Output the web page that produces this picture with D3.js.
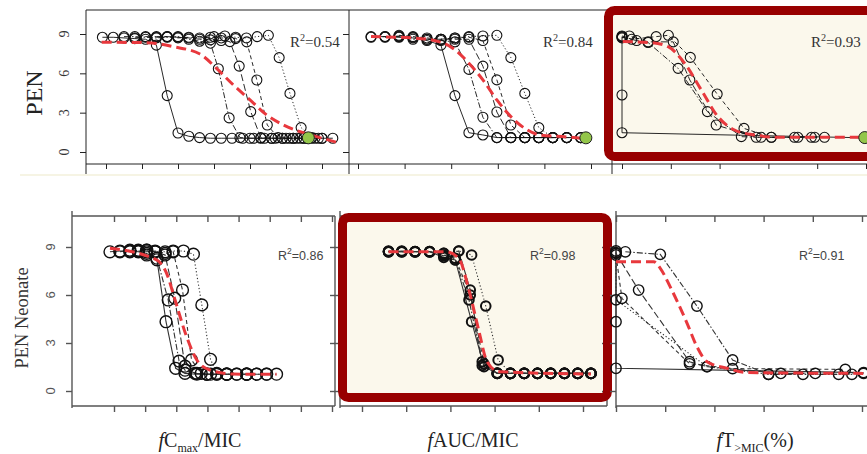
<!DOCTYPE html>
<html>
<head>
<meta charset="utf-8">
<script src="https://cdn.jsdelivr.net/npm/d3@7"></script>
<style>
  body { margin: 0; background: #fff; }
  svg { display: block; }
</style>
</head>
<body>
<svg id="chart" width="867" height="454"></svg>
<script>
// ---- data ----
var yTickValues = [0, 3, 6, 9];
var cmaxTicks = [0, 1, 2, 3, 4, 5, 6];
var neoCmaxTicks = [0, 1, 2, 3, 4, 5, 6, 7];
var aucTicks = [0, 1, 2, 3, 4, 5];
var timeTicks = [0, 20, 40, 60, 80, 100];
var r2Values = ["0.54", "0.84", "0.93", "0.86", "0.98", "0.91"];
var xTitles = ["C", "AUC/MIC", "T"];

var penCmaxSeries = [
  [[-0.1,8.75],[0.2,8.75],[0.5,8.7],[0.8,8.65],[1.1,8.6],[1.4,8.15],[1.7,4.3],[2.0,1.45],[2.3,1.2],[2.6,1.1],[2.9,1.05],[3.2,1.05],[3.5,1.05],[3.8,1.05],[4.1,1.05],[4.4,1.05],[4.7,1.05],[5.0,1.05],[5.3,1.05],[5.6,1.05],[5.9,1.05],[6.3,1.05]],
  [[0.5,8.8],[0.8,8.8],[1.1,8.75],[1.4,8.7],[1.7,8.75],[2.0,8.8],[2.3,8.6],[2.6,8.45],[2.9,8.3],[3.12,6.35],[3.42,2.6],[3.72,1.1],[4.0,1.05],[4.3,1.05],[4.6,1.05],[4.9,1.05],[5.2,1.05],[5.5,1.05]],
  [[0.8,8.7],[1.1,8.8],[1.4,8.8],[1.7,8.8],[2.0,8.75],[2.3,8.7],[2.6,8.6],[2.9,8.55],[3.2,8.5],[3.44,8.42],[3.7,6.55],[4.02,3.08],[4.3,1.1],[4.6,1.05],[4.9,1.05],[5.2,1.05],[5.5,1.05],[5.8,1.05]],
  [[1.4,8.75],[1.7,8.8],[2.0,8.7],[2.3,8.75],[2.6,8.7],[2.9,8.75],[3.2,8.7],[3.6,8.65],[3.91,8.4],[4.19,5.49],[4.48,2.06],[4.78,1.1],[5.1,1.05],[5.4,1.05],[5.7,1.05],[6.0,1.05]],
  [[3.0,8.8],[3.3,8.85],[3.6,8.75],[3.9,8.7],[4.2,8.8],[4.51,8.9],[4.81,7.2],[5.11,4.47],[5.42,1.86],[5.72,1.1],[6.0,1.05]]
];
var penCmaxFit = [[-0.12,8.37],[1.13,8.34],[1.87,8.03],[2.61,7.47],[3.07,6.38],[3.54,5.11],[4.0,3.97],[4.46,2.83],[4.93,2.06],[5.39,1.55],[5.85,1.17],[6.45,0.71]];
var penCmaxGreen = [5.62, 1.08];

var penAucSeries = [
  [[0.28,8.8],[0.58,8.8],[0.88,8.75],[1.18,8.7],[1.48,8.5],[1.78,8.15],[2.08,4.3],[2.38,1.47],[2.68,1.3],[2.98,1.1],[3.28,1.1],[3.58,1.1],[3.88,1.1],[4.18,1.1],[4.48,1.1],[4.78,1.1]],
  [[0.28,8.75],[0.58,8.8],[0.88,8.8],[1.18,8.6],[1.48,8.6],[1.78,8.5],[2.08,8.4],[2.38,6.3],[2.68,2.65],[2.98,1.1],[3.28,1.1],[3.58,1.1],[3.88,1.1],[4.18,1.1]],
  [[0.58,8.75],[0.88,8.85],[1.18,8.75],[1.48,8.6],[1.78,8.6],[2.08,8.6],[2.38,8.6],[2.68,6.55],[2.98,3.05],[3.28,1.1],[3.58,1.1],[3.88,1.1],[4.18,1.1],[4.48,1.1]],
  [[0.88,8.9],[1.18,8.8],[1.48,8.7],[1.78,8.6],[2.08,8.7],[2.38,8.75],[2.68,8.5],[2.98,5.5],[3.28,2.06],[3.58,1.1],[3.88,1.1],[4.18,1.1],[4.48,1.1],[4.78,1.1]],
  [[1.78,8.6],[2.08,8.7],[2.38,8.8],[2.68,8.85],[2.98,8.9],[3.28,7.2],[3.58,4.47],[3.88,1.86],[4.18,1.1],[4.48,1.1],[4.78,1.1]]
];
var penAucFit = [[0.28,8.8],[1.18,8.7],[1.75,8.4],[2.08,7.8],[2.38,6.77],[2.68,5.5],[2.98,3.97],[3.28,2.7],[3.58,1.8],[3.9,1.3],[4.48,1.15],[4.88,1.03]];
var penAucGreen = [4.89, 1.08];

var penTimeSeries = [
  [[0,8.8],[0,4.35],[0,1.47],[99.5,1.08]],
  [[0,8.75],[6,8.5],[10.7,8.35],[23,6.38],[35,3.08],[48.9,1.17],[57,1.12],[70.7,1.12]],
  [[0,8.7],[3,8.85],[10.7,8.4],[21,8.4],[27.8,5.49],[38.6,2.06],[55,1.12],[61.2,1.12],[77.6,1.12]],
  [[0,8.85],[4,8.6],[14,8.8],[19,8.9],[28,7.22],[39,4.42],[50,1.8],[61.2,1.12],[72.1,1.12],[79,1.12],[83,1.12]]
];
var penTimeFit = [[0.3,8.42],[12.1,8.34],[18.9,8.03],[25.7,6.76],[32.5,4.73],[39.3,2.7],[46.1,1.68],[54.3,1.3],[63.8,1.12],[84.2,1.12],[99.5,1.12]];
var penTimeGreen = [99.5, 1.1];

var neoCmaxSeries = [
  [[-0.13,8.7],[0.19,8.75],[0.51,8.75],[0.78,8.7],[1.05,8.6],[1.38,8.2],[1.67,4.33],[1.98,1.42],[2.28,1.1],[2.66,1.05],[2.98,1.05],[3.3,1.05],[3.62,1.05]],
  [[0.19,8.7],[0.51,8.8],[0.78,8.75],[1.05,8.5],[1.38,8.3],[1.74,5.69],[2.09,1.87],[2.28,1.3],[2.66,1.1],[2.98,1.05],[3.3,1.05],[3.94,1.05],[4.26,1.05]],
  [[0.51,8.7],[0.78,8.8],[1.05,8.8],[1.32,8.7],[1.64,8.5],[1.95,5.8],[2.28,1.55],[2.6,1.1],[2.98,1.05],[3.62,1.05],[4.26,1.05],[4.58,1.05]],
  [[0.78,8.75],[1.05,8.7],[1.32,8.75],[1.64,8.6],[1.9,8.7],[2.2,6.31],[2.49,1.94],[2.8,1.1],[3.1,1.05],[3.62,1.05],[4.26,1.05],[4.9,1.05]],
  [[1.05,8.8],[1.32,8.7],[1.64,8.7],[1.9,8.75],[2.23,8.75],[2.55,8.55],[2.82,5.38],[3.1,1.98],[3.3,1.1],[3.62,1.05],[3.94,1.05],[4.26,1.05],[4.58,1.05],[4.9,1.05],[5.22,1.05]]
];
var neoCmaxFit = [[-0.13,8.92],[1.37,8.19],[1.69,7.35],[1.96,5.69],[2.33,3.4],[2.66,1.94],[3.08,1.31],[3.83,1.06],[5.22,1.04]];

var neoAucSeries = [
  [[0.6,8.71],[0.9,8.71],[1.2,8.71],[1.53,8.71],[1.85,8.35],[2.11,8.19],[2.48,4.33],[2.76,1.52],[3.06,1.1],[3.36,1.1],[3.67,1.1],[3.97,1.1],[4.27,1.1],[4.58,1.1],[4.88,1.1],[5.18,1.1]],
  [[0.6,8.75],[0.9,8.7],[1.2,8.72],[1.53,8.7],[1.85,8.6],[2.11,8.2],[2.42,5.69],[2.72,1.83],[3.06,1.1],[3.36,1.1],[3.67,1.1],[3.97,1.1],[4.27,1.1],[4.58,1.1],[4.88,1.1],[5.18,1.1]],
  [[0.6,8.7],[0.9,8.75],[1.2,8.7],[1.53,8.72],[1.85,8.45],[2.19,8.75],[2.45,6.31],[2.72,1.6],[3.06,1.12],[3.36,1.1],[3.67,1.1],[3.97,1.1],[4.27,1.1],[4.58,1.1],[4.88,1.1],[5.18,1.1]],
  [[0.6,8.72],[0.9,8.72],[1.2,8.7],[1.53,8.7],[1.85,8.5],[2.11,8.3],[2.45,6.0],[2.76,1.7],[3.06,1.1],[3.36,1.1],[3.67,1.1],[3.97,1.1],[4.27,1.1],[4.58,1.1],[4.88,1.1],[5.18,1.1]],
  [[0.6,8.7],[0.9,8.7],[1.2,8.7],[1.53,8.7],[1.85,8.6],[2.19,8.75],[2.48,8.5],[2.8,5.31],[3.08,1.94],[3.36,1.1],[3.67,1.1],[3.97,1.1],[4.27,1.1],[4.58,1.1],[4.88,1.1],[5.18,1.1]]
];
var neoAucFit = [[0.6,8.71],[1.89,8.71],[2.19,8.29],[2.42,6.31],[2.64,3.81],[2.83,1.83],[3.1,1.21],[5.18,1.06]];

var neoTimeSeries = [
  [[0,8.75],[0,4.33],[0,1.42],[100.6,1.15]],
  [[3.8,8.7],[18,8.54],[32.9,5.31],[47.4,1.94],[62,1.04],[76,1.04],[95.9,1.04]],
  [[0,8.6],[9.2,6.31],[29.9,1.83],[37,1.52],[67,1.1],[81,1.1]],
  [[0,8.5],[2.4,5.79],[29.9,1.7],[47.4,1.4],[93.2,1.35]],
  [[0,8.65],[0,5.7],[37,1.52],[62,1.04],[90.5,1.04],[100.6,1.1]]
];
var neoTimeFit = [[0,8.08],[15.3,8.08],[18,7.67],[22,6.52],[28.9,4.23],[32.9,2.77],[37,1.83],[45.1,1.42],[53.2,1.15],[102,1.1]];

// ---- styles ----
var dashes = ["none", "6,2,1.5,2", "7,3", "4,3", "1.2,2.2"];
var frameColor = "#980000";
var cream = "#fbf8ec";
var fitColor = "#e8383d";

var svg = d3.select("#chart");

var panels = [
  {series: penCmaxSeries, fit: penCmaxFit, green: penCmaxGreen, r2: r2Values[0], row: "top",
   left: 86, right: 349, xDomain: [0, 6], xRange: [106, 322], ticks: cmaxTicks, labels: true, r2x: 290},
  {series: penAucSeries, fit: penAucFit, green: penAucGreen, r2: r2Values[1], row: "top",
   left: 349, right: 612, xDomain: [0, 5], xRange: [358, 591], ticks: aucTicks, r2x: 543},
  {series: penTimeSeries, fit: penTimeFit, green: penTimeGreen, r2: r2Values[2], row: "top",
   left: 612, right: 880, xDomain: [0, 100], xRange: [622, 866], ticks: timeTicks, frame: true, r2x: 811},
  {series: neoCmaxSeries, fit: neoCmaxFit, r2: r2Values[3], row: "bottom", r: 5.9,
   left: 72, right: 335, xDomain: [0, 7], xRange: [114, 332], ticks: neoCmaxTicks, labels: true, inner: true, r2x: 278},
  {series: neoAucSeries, fit: neoAucFit, r2: r2Values[4], row: "bottom", r: 4.8, circleW: 2,
   left: 340, right: 607, xDomain: [0, 5], xRange: [362, 583], ticks: aucTicks, frame: true, inner: true, r2x: 530},
  {series: neoTimeSeries, fit: neoTimeFit, r2: r2Values[5], row: "bottom",
   left: 616, right: 880, xDomain: [0, 100], xRange: [616, 862], ticks: timeTicks, inner: true, r2x: 799}
];

var rows = {
  top: {top: 10, bottom: 164, yRange: [152, 34], vStart: 10, vEnd: 174, axis: "#222", axisW: 1,
        r: 5, circleW: 1.1, lineW: 0.9, lineColor: "#111", font: "Liberation Serif", r2Size: 15, r2y: 47, r2Color: "#333"},
  bottom: {top: 216, bottom: 406, yRange: [391, 247], vStart: 211, vEnd: 408, axis: "#555", axisW: 1.4,
        r: 5.2, circleW: 1.4, lineW: 1.1, lineColor: "#333", font: "Liberation Sans", r2Size: 12.5, r2y: 260, r2Color: "#444"}
};

// faint strip under the top row
svg.append("rect").attr("x", 20).attr("y", 174).attr("width", 847).attr("height", 2).attr("fill", "#f6f4e4");

function drawPanel(p) {
  var row = rows[p.row];
  var x = d3.scaleLinear().domain(p.xDomain).range(p.xRange);
  var y = d3.scaleLinear().domain([0, 9]).range(row.yRange);
  var g = svg.append("g");

  var fr = null;
  if (p.frame) {
    fr = p.row === "top"
      ? {x: 608.5, y: 10.5, w: 290, h: 146}
      : {x: 342.5, y: 217.5, w: 265, h: 180};
    g.append("rect").attr("x", fr.x).attr("y", fr.y).attr("width", fr.w).attr("height", fr.h)
      .attr("rx", 6).attr("fill", cream);
  }

  var ax = g.append("g").attr("stroke", row.axis).attr("stroke-width", row.axisW).attr("fill", "none");
  // box lines
  ax.append("line").attr("x1", p.left).attr("x2", p.left).attr("y1", row.vStart).attr("y2", row.vEnd);
  ax.append("line").attr("x1", p.left).attr("x2", Math.min(p.right, 867)).attr("y1", row.top).attr("y2", row.top);
  ax.append("line").attr("x1", p.left).attr("x2", Math.min(p.right, 867)).attr("y1", row.bottom).attr("y2", row.bottom);
  if (p.inner && p.right < 867) {
    ax.append("line").attr("x1", p.right).attr("x2", p.right).attr("y1", row.top).attr("y2", row.bottom);
  }

  // x ticks via d3 axis
  var xAxis = g.append("g").attr("transform", "translate(0," + row.bottom + ")")
    .call(d3.axisBottom(x).tickValues(p.ticks).tickSize(p.row === "top" ? 5 : 6).tickFormat(""));
  xAxis.select(".domain").remove();
  xAxis.selectAll("line").attr("stroke", row.axis).attr("stroke-width", row.axisW);

  var yAxis = g.append("g").attr("transform", "translate(" + p.left + ",0)")
    .call(d3.axisLeft(y).tickValues(yTickValues).tickSize(6).tickFormat(""));
  yAxis.select(".domain").remove();
  yAxis.selectAll("line").attr("stroke", row.axis).attr("stroke-width", row.axisW);

  if (p.inner) {
    var topTicks = g.append("g").attr("transform", "translate(0," + row.top + ")")
      .call(d3.axisBottom(x).tickValues(p.ticks).tickSize(6).tickFormat(""));
    topTicks.select(".domain").remove();
    topTicks.selectAll("line").attr("stroke", row.axis).attr("stroke-width", row.axisW);
    if (p.right < 867) {
      var rTicks = g.append("g").attr("transform", "translate(" + p.right + ",0)")
        .call(d3.axisLeft(y).tickValues(yTickValues).tickSize(5).tickFormat(""));
      rTicks.select(".domain").remove();
      rTicks.selectAll("line").attr("stroke", row.axis).attr("stroke-width", row.axisW);
    }
  }

  // y tick labels (rotated, R style)
  if (p.labels) {
    var lx = p.row === "top" ? 69 : 55;
    g.selectAll(".ylab").data(yTickValues).enter().append("text")
      .attr("transform", function(d) { return "translate(" + lx + "," + y(d) + ") rotate(-90)"; })
      .attr("text-anchor", "middle")
      .attr("font-family", row.font)
      .attr("font-size", p.row === "top" ? 14 : 13)
      .attr("fill", p.row === "top" ? "#333" : "#555")
      .text(function(d) { return d; });
  }

  // data series
  var line = d3.line().x(function(d) { return x(d[0]); }).y(function(d) { return y(d[1]); });
  p.series.forEach(function(s, i) {
    g.append("path").datum(s).attr("d", line)
      .attr("fill", "none").attr("stroke", row.lineColor).attr("stroke-width", row.lineW)
      .attr("stroke-dasharray", dashes[i % dashes.length]);
  });
  p.series.forEach(function(s) {
    g.selectAll(null).data(s).enter().append("circle")
      .attr("cx", function(d) { return x(d[0]); })
      .attr("cy", function(d) { return y(d[1]); })
      .attr("r", p.r || row.r)
      .attr("fill", "none").attr("stroke", "#111").attr("stroke-width", p.circleW || row.circleW);
  });

  // fitted curve
  g.append("path").datum(p.fit)
    .attr("d", d3.line().curve(d3.curveMonotoneX).x(function(d) { return x(d[0]); }).y(function(d) { return y(d[1]); }))
    .attr("fill", "none").attr("stroke", fitColor).attr("stroke-width", 3)
    .attr("stroke-dasharray", "10,5");

  if (p.green) {
    g.append("circle").attr("cx", x(p.green[0])).attr("cy", y(p.green[1])).attr("r", 6)
      .attr("fill", "#93c64a").attr("stroke", "#222").attr("stroke-width", 1);
  }

  // R^2 label
  var t = g.append("text").attr("x", p.r2x).attr("y", row.r2y)
    .attr("font-family", row.font).attr("font-size", row.r2Size).attr("fill", row.r2Color);
  t.append("tspan").text("R");
  t.append("tspan").attr("dy", -6).attr("font-size", row.r2Size * 0.68).text("2");
  t.append("tspan").attr("dy", 6).text("=" + p.r2);

  if (fr) {
    g.append("rect").attr("x", fr.x).attr("y", fr.y).attr("width", fr.w).attr("height", fr.h)
      .attr("rx", 6).attr("fill", "none").attr("stroke", frameColor).attr("stroke-width", 9);
  }
}

panels.forEach(drawPanel);

// row titles
svg.append("text").attr("transform", "translate(42,93) rotate(-90)")
  .attr("text-anchor", "middle").attr("font-family", "Liberation Serif").attr("font-size", 24)
  .attr("fill", "#222").text("PEN");
svg.append("text").attr("transform", "translate(28,318) rotate(-90)")
  .attr("text-anchor", "middle").attr("font-family", "Liberation Serif").attr("font-size", 18.5)
  .attr("fill", "#333").text("PEN Neonate");

// x titles
var titleCenters = [200, 473, 755];
function xTitle(i, build) {
  var t = svg.append("text").attr("x", titleCenters[i]).attr("y", 447)
    .attr("text-anchor", "middle").attr("font-family", "Liberation Serif").attr("font-size", 20).attr("fill", "#222");
  t.append("tspan").attr("font-style", "italic").text("f");
  build(t);
}
xTitle(0, function(t) {
  t.append("tspan").text(xTitles[0]);
  t.append("tspan").attr("dy", 5).attr("font-size", 12).text("max");
  t.append("tspan").attr("dy", -5).text("/MIC");
});
xTitle(1, function(t) { t.append("tspan").text(xTitles[1]); });
xTitle(2, function(t) {
  t.append("tspan").text(xTitles[2]);
  t.append("tspan").attr("dy", 5).attr("font-size", 12).text(">MIC");
  t.append("tspan").attr("dy", -5).text("(%)");
});
</script>
</body>
</html>
